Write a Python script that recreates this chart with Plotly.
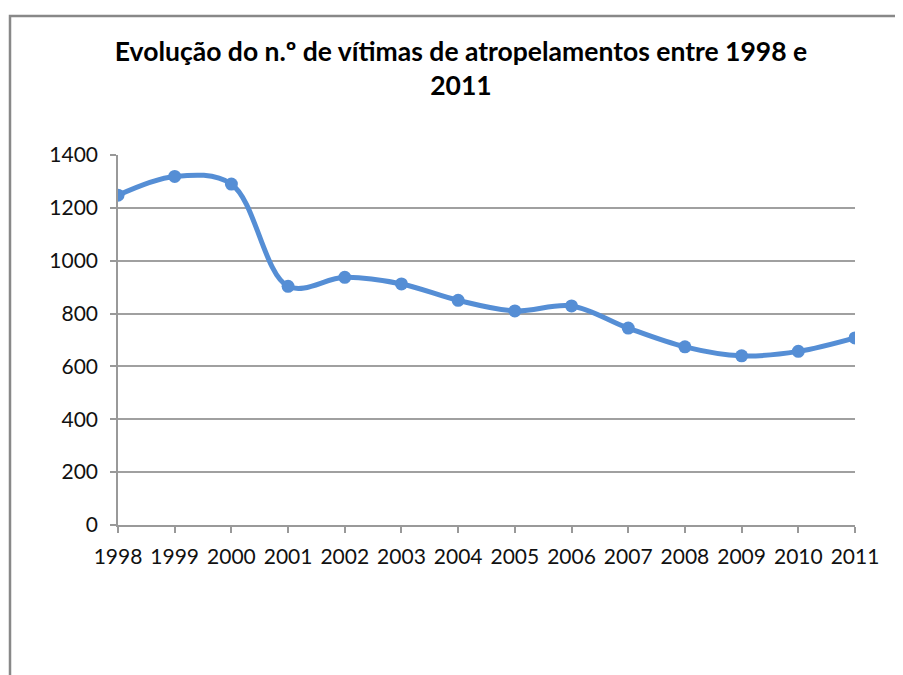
import plotly.graph_objects as go

years = [1998, 1999, 2000, 2001, 2002, 2003, 2004, 2005, 2006, 2007, 2008, 2009, 2010, 2011]
victims = [1248, 1319, 1290, 903, 937, 912, 850, 810, 829, 745, 674, 640, 657, 708]
y_ticks = [0, 200, 400, 600, 800, 1000, 1200, 1400]

title_text = "Evolução do n.º de vítimas de atropelamentos entre 1998 e<br>2011"

OFF = 8  # default page body margin
W, H = 903 - OFF, 675 - OFF
# target plot area in page pixels: x 118..855, y 155..525
L = 118 - OFF
T = 155 - OFF
R = (W + OFF) - 855
B = (H + OFF) - 525
pw, ph = W - L - R, H - T - B

def px_x(px):
    return (px - OFF - L) / pw

def px_y(py):
    return (H - B - (py - OFF)) / ph

fig = go.Figure()
fig.add_trace(go.Scatter(
    x=years, y=victims, mode="lines+markers",
    line=dict(color="#558ED5", width=5, shape="spline", smoothing=1.0),
    marker=dict(color="#558ED5", size=13),
    showlegend=False, hoverinfo="x+y",
))

fig.update_layout(
    width=W, height=H,
    margin=dict(l=L, r=R, t=T, b=B),
    paper_bgcolor="white", plot_bgcolor="white",
    font=dict(family="Lato, Open Sans, sans-serif", color="#111111"),
    title=dict(text=title_text, x=px_x(461), xref="paper", xanchor="center",
               y=1 - (61 - OFF) / H, yanchor="top", yref="container",
               font=dict(family="Lato, Open Sans, sans-serif", size=26.5, color="#000000", weight="bold")),
    xaxis=dict(range=[1998, 2011], tickmode="array", tickvals=years,
               ticktext=[str(y) for y in years],
               showgrid=False, zeroline=False,
               showline=True, linecolor="#999999", linewidth=1.5,
               ticks="outside", ticklen=6, tickcolor="#999999", tickwidth=1.5,
               ticklabelstandoff=6,
               tickfont=dict(size=21, color="#111111")),
    yaxis=dict(range=[0, 1400], tickmode="array", tickvals=y_ticks,
               showgrid=True, gridcolor="#a0a0a0", gridwidth=1.5,
               zeroline=False,
               showline=True, linecolor="#999999", linewidth=1.5,
               ticks="outside", ticklen=6, tickcolor="#999999", tickwidth=1.5,
               ticklabelstandoff=8,
               tickfont=dict(size=21, color="#111111")),
)

# outer chart frame (extends beyond the visible window on right and bottom)
fig.add_shape(type="rect", xref="paper", yref="paper",
              x0=px_x(10), x1=px_x(930), y0=px_y(720), y1=px_y(16),
              line=dict(color="#888888", width=2.5), fillcolor="rgba(0,0,0,0)",
              layer="below")

fig.write_html("out.html")
